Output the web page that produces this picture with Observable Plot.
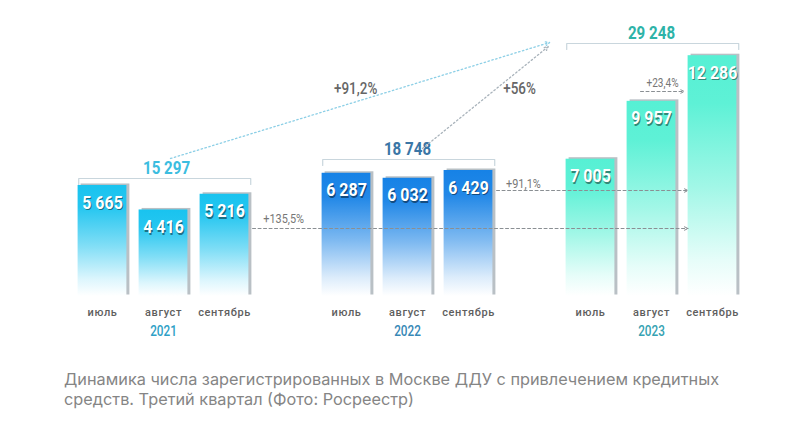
<!DOCTYPE html>
<html>
<head>
<meta charset="utf-8">
<script src="https://cdn.jsdelivr.net/npm/d3@7"></script>
<script src="https://cdn.jsdelivr.net/npm/@observablehq/plot@0.6"></script>
<style>
  html, body { margin: 0; padding: 0; background: #fff; }
  #chart { width: 800px; height: 350px; }
  #caption { margin: 19px 0 0 64px; width: 690px; font-family: Inter, "Noto Sans", sans-serif; font-size: 16.3px; line-height: 20px; color: #858585; }
</style>
</head>
<body>
<div id="chart"></div>
<div id="caption">Динамика числа зарегистрированных в Москве ДДУ с привлечением кредитных средств. Третий квартал (Фото: Росреестр)</div>
<script>
// ---- data ----
const years = ["2021", "2022", "2023"];
const months = ["июль", "август", "сентябрь"];
const values2021 = [5665, 4416, 5216];
const values2022 = [6287, 6032, 6429];
const values2023 = [7005, 9957, 12286];
const totals = [15297, 18748, 29248];
const growthLabels = ["+135,5%", "+91,1%", "+23,4%", "+91,2%", "+56%"];

// ---- styling ----
const topColors = {"2021": "#19c3ef", "2022": "#1682e6", "2023": "#56f0d4"};
const totalColors = ["#3bbde0", "#3a76a6", "#2db3a8"];
const yearColors = ["#2e9fc6", "#3788b6", "#35a2b2"];
const COND = "Roboto, 'Noto Sans', sans-serif";   // squeezed after render
const PLAIN = "Roboto, sans-serif";
const fmt = v => d3.format(",")(v).replace(/,/g, " ");

const seriesValues = [values2021, values2022, values2023];
const rows = years.flatMap((year, yi) => months.map((month, mi) => ({
  year, month, value: seriesValues[yi][mi], slot: yi * 4 + mi
})));
const groups = years.map((year, yi) => ({
  year, total: totals[yi], first: yi * 4, last: yi * 4 + 2, mid: yi * 4 + 1
}));

// bracket levels (data units) above each group
const k = 0.0196; // px per unit
const bracketLevel = [6020, 6990, 12908];
const tickLen = 6 / k;
const brackets = groups.flatMap((g, i) => {
  const x1 = g.first - 0.39, x2 = g.last + 0.43, yl = bracketLevel[i];
  return [
    {z: i, x: x1, y: yl - tickLen},
    {z: i, x: x1, y: yl},
    {z: i, x: x2, y: yl},
    {z: i, x: x2, y: yl - tickLen}
  ];
});
const totalLabels = groups.map((g, i) => ({x: g.mid + (i === 0 ? 0.05 : 0.0), y: bracketLevel[i] + 10 / k, text: fmt(g.total), color: totalColors[i]}));

// growth annotations (in data space)
const dashed = [
  {x1: 2.46, x2: 9.6, y: 3469, label: growthLabels[0], lx: 2.97, ly: 3980},
  {x1: 6.46, x2: 9.6, y: 5408, label: growthLabels[1], lx: 6.9, ly: 5765},
  {x1: 8.82, x2: 9.54, y: 10459, label: growthLabels[2], lx: 9.18, ly: 10867}
];
const dotted = [
  {x1: 1.115, y1: 7041, x2: 7.33, y2: 12960, label: growthLabels[3], lx: 4.15, ly: 10612, color: "#8ccfe6"},
  {x1: 5.246, y1: 7551, x2: 7.31, y2: 12755, label: growthLabels[4], lx: 6.836, ly: 10612, color: "#a9b3bb"}
];

const marks = [];
// shadows
marks.push(Plot.rectY(rows, {x1: d => d.slot - 0.4, x2: d => d.slot + 0.4, y: "value", dx: 3, dy: -1.5, fill: "#b9c0c5"}));
// bars
for (const year of years) {
  marks.push(Plot.rectY(rows.filter(d => d.year === year), {
    x1: d => d.slot - 0.4, x2: d => d.slot + 0.4, y: "value", fill: `url(#g${year})`
  }));
}
// value labels with shadow
marks.push(Plot.text(rows, {x: "slot", y: "value", text: d => fmt(d.value), dy: 18.5, dx: 1, fill: "rgba(0,0,0,0.45)", fontSize: 19, fontWeight: "bold", fontFamily: COND, lineAnchor: "middle"}));
marks.push(Plot.text(rows, {x: "slot", y: "value", text: d => fmt(d.value), dy: 17, fill: "white", fontSize: 19, fontWeight: "bold", fontFamily: COND, lineAnchor: "middle"}));
// month labels
marks.push(Plot.text(rows, {x: "slot", y: 0, text: "month", dy: 16, fill: "#5e5e5e", fontSize: 11, fontWeight: 500, fontFamily: PLAIN, lineAnchor: "middle"}));
// year labels
marks.push(Plot.text(groups, {x: "mid", y: 0, text: "year", dy: 35, fill: (d, i) => yearColors[i], fontSize: 14, fontWeight: 500, fontFamily: COND, lineAnchor: "middle"}));
// brackets
marks.push(Plot.line(brackets, {x: "x", y: "y", z: "z", stroke: "#c9d6dd", strokeWidth: 1.2}));
marks.push(Plot.text(totalLabels, {x: "x", y: "y", text: "text", fill: d => d.color, fontSize: 18, fontWeight: "bold", fontFamily: COND, lineAnchor: "middle"}));
// dashed arrows
marks.push(Plot.arrow(dashed, {x1: "x1", x2: "x2", y1: "y", y2: "y", stroke: "#8a8f93", strokeWidth: 1, strokeDasharray: "3,2.5", headLength: 6, headAngle: 50}));
marks.push(Plot.text(dashed, {x: "lx", y: "ly", text: "label", fill: "#777", fontSize: d => d.label === growthLabels[2] ? 12 : 13, fontFamily: COND, lineAnchor: "middle"}));
// dotted long arrows
for (const d of dotted) {
  marks.push(Plot.arrow([d], {x1: "x1", y1: "y1", x2: "x2", y2: "y2", stroke: d.color, strokeWidth: 1.3, strokeDasharray: "1.5,2.5", headLength: 5, headAngle: 50}));
}
marks.push(Plot.text(dotted, {x: "lx", y: "ly", text: "label", fill: "#666", fontSize: 16, fontWeight: 500, fontFamily: COND, lineAnchor: "middle"}));

const chart = Plot.plot({
  width: 800,
  height: 350,
  marginLeft: 71.5,
  marginRight: 57.5,
  marginTop: 20,
  marginBottom: 54,
  x: {domain: [-0.5, 10.5], axis: null},
  y: {domain: [0, 276 / k], axis: null},
  style: {background: "white", overflow: "visible"},
  marks
});

// gradients: solid colour at the top fading to white at the bottom
const defs = d3.select(chart).insert("defs", ":first-child");
for (const year of years) {
  const c = topColors[year];
  const mix = t => d3.interpolateRgb(c, "#ffffff")(t);
  const g = defs.append("linearGradient").attr("id", `g${year}`).attr("x1", 0).attr("y1", 0).attr("x2", 0).attr("y2", 1);
  [[0, 0], [0.2, 0.05], [0.55, 0.45], [0.85, 0.85], [1, 1]].forEach(([o, t]) =>
    g.append("stop").attr("offset", o).attr("stop-color", mix(t)));
}
// condensed look: squeeze text horizontally around its anchor
d3.select(chart).selectAll("g").filter(function() {
  return this.getAttribute("font-family") === COND;
}).selectAll("text").each(function() {
  const t = this.getAttribute("transform");
  if (t && /translate/.test(t)) {
    this.setAttribute("transform", t + " scale(0.84,1)");
  } else {
    const x = +(this.getAttribute("x") || 0), y = +(this.getAttribute("y") || 0);
    this.removeAttribute("x"); this.removeAttribute("y");
    this.setAttribute("transform", `translate(${x},${y}) ${t || ""} scale(0.84,1)`);
  }
});
d3.select(chart).selectAll("g").filter(function() {
  return this.getAttribute("font-family") === PLAIN;
}).selectAll("text").attr("letter-spacing", "0.6px");
document.getElementById("chart").appendChild(chart);
</script>
</body>
</html>
